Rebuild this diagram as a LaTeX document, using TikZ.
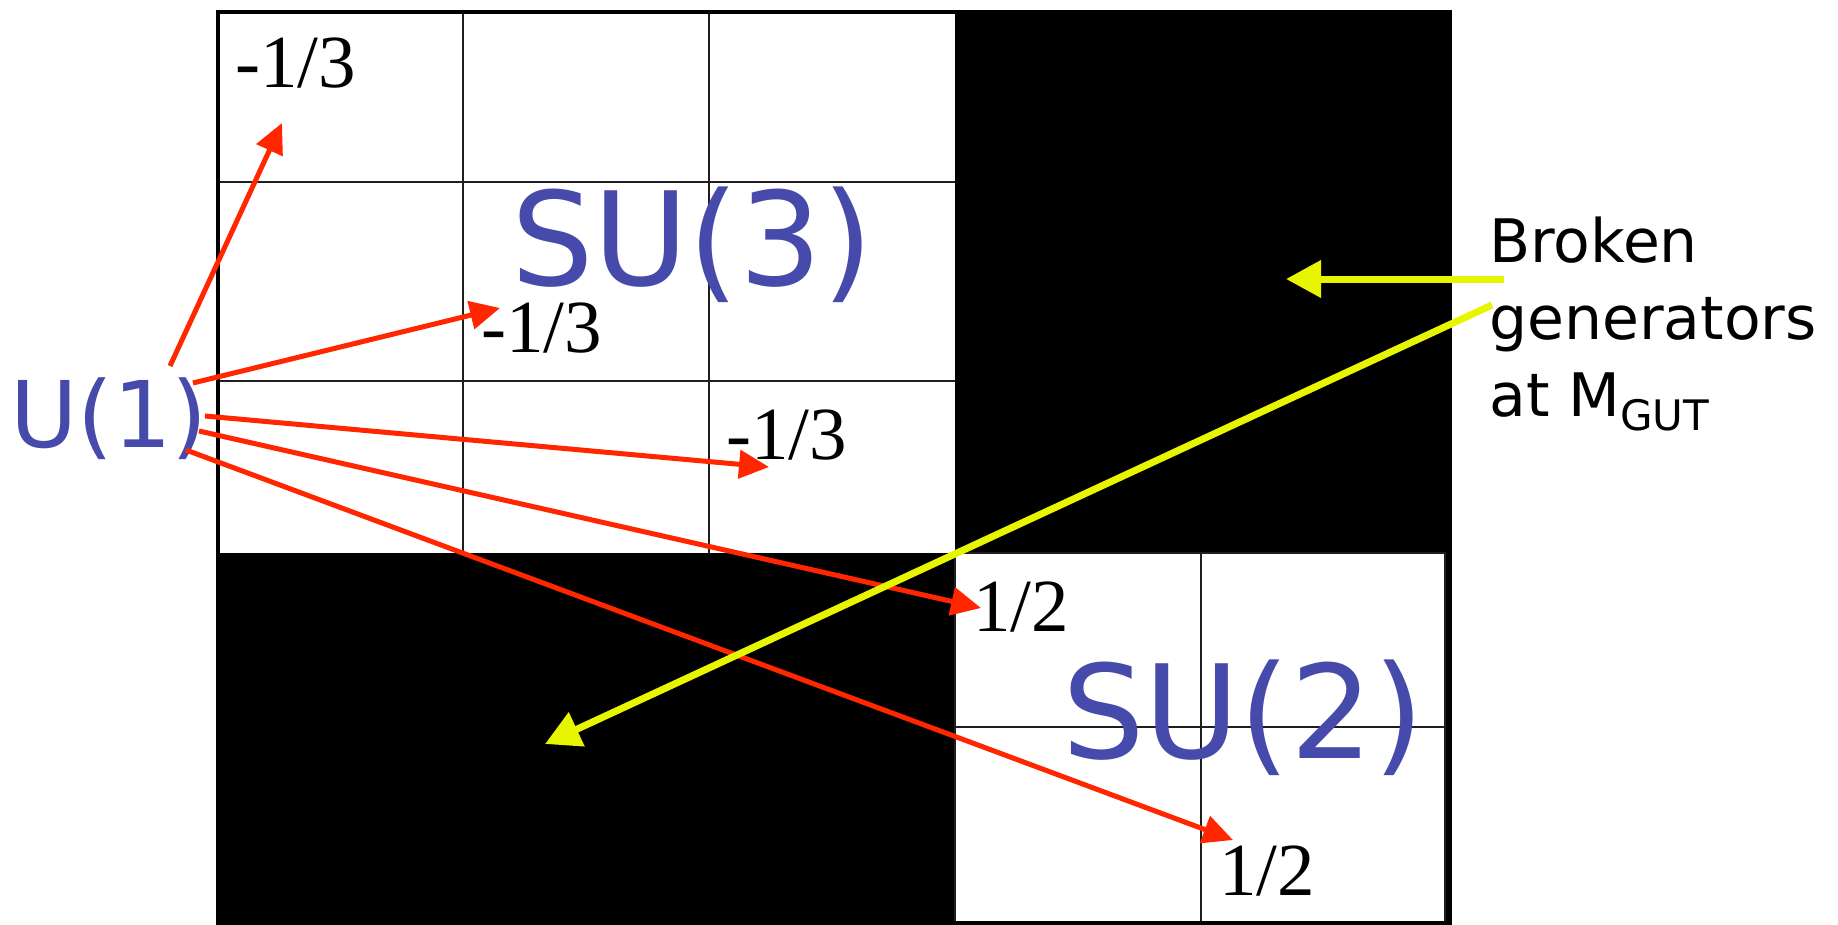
\documentclass[tikz,border=0pt]{standalone}
\usepackage{fontspec}
\setmainfont{Liberation Serif}
\newfontfamily\handfont{DejaVu Sans}
\usetikzlibrary{arrows.meta}
\definecolor{groupcolor}{RGB}{70, 74, 170}
\definecolor{chargecolor}{RGB}{255, 38, 0}
\definecolor{brokencolor}{RGB}{232, 245, 0}
\definecolor{cellcolor}{RGB}{30, 30, 30}
\tikzset{
chargelabel/.style={
  anchor=base west,
  inner sep=0pt,
  font=\fontsize{75}{90}\selectfont
},
grouplabel/.style={
  anchor=base west,
  inner sep=0pt,
  text=groupcolor,
  font=\handfont\fontsize{130}{150}\selectfont
},
cellline/.style={
  draw=cellcolor,
  line width=2pt
},
chargearrow/.style={
  -{Triangle[length=30pt,width=28pt]},
  line width=5pt,
  draw=chargecolor
},
brokenarrow/.style={
  -{Triangle[length=35pt,width=36pt]},
  line width=7pt,
  draw=brokencolor
}
}

\begin{document}
\begin{tikzpicture}[x=1pt, y=-1pt]

\useasboundingbox (0,0) rectangle (1838,925);
\fill[white] (0,0) rectangle (1838,925);

% ============================================================================
% Blocos da matriz
% ============================================================================
\fill[black] (218,12) rectangle (1450,923);
\fill[white] (218,12) rectangle (955,553);
\fill[white] (955,553) rectangle (1445,923);

% SU(3)
\foreach \x in {463,709}
  \draw[cellline] (\x,12) -- (\x,553);
\foreach \y in {182,381}
  \draw[cellline] (218,\y) -- (955,\y);

% SU(2)
\draw[cellline] (955,553) rectangle (1445,923);
\draw[cellline] (1201,553) -- (1201,923);
\draw[cellline] (955,727) -- (1445,727);

% Moldura
\draw[line width=4pt] (218,12) rectangle (1450,923);

% ============================================================================
% Grupos
% ============================================================================
\node[grouplabel] (su3) at (511,286) {SU(3)};
\node[grouplabel] (su2) at (1062,758) {SU(2)};
\node[grouplabel, font=\handfont\fontsize{92}{110}\selectfont] (u1) at (10,447) {U(1)};

% ============================================================================
% Cargas
% ============================================================================
\node[chargelabel] (qa) at (235,88) {-1/3};
\node[chargelabel] (qb) at (481,352) {-1/3};
\node[chargelabel] (qc) at (726,459) {-1/3};
\node[chargelabel] (qd) at (973,631) {1/2};
\node[chargelabel] (qe) at (1219,895) {1/2};

% ============================================================================
% Setas U(1)
% ============================================================================
\coordinate (ua) at (170,366);
\coordinate (ub) at (193,383);
\coordinate (uc) at (205,416);
\coordinate (ud) at (199,431);
\coordinate (ue) at (186,450);

\coordinate (ta) at (282,123);
\coordinate (tb) at (500,308);
\coordinate (tc) at (769,467);
\coordinate (td) at (981,608);
\coordinate (te) at (1233,840);

\draw[chargearrow] (ua) -- (ta);
\draw[chargearrow] (ub) -- (tb);
\draw[chargearrow] (uc) -- (tc);
\draw[chargearrow] (ud) -- (td);
\draw[chargearrow] (ue) -- (te);

% ============================================================================
% Geradores quebrados
% ============================================================================
\node[anchor=north west, inner sep=0pt, align=left,
      font=\handfont\fontsize{60}{77}\selectfont] (broken) at (1489,217)
  {Broken\\generators\\at M\raisebox{-14pt}{\fontsize{42}{42}\selectfont GUT}};

\coordinate (ba) at (1504,279);
\coordinate (bb) at (1492,305);
\coordinate (ka) at (1286,279);
\coordinate (kb) at (545,744);

\draw[brokenarrow] (ba) -- (ka);
\draw[brokenarrow] (bb) -- (kb);

\end{tikzpicture}
\end{document}
